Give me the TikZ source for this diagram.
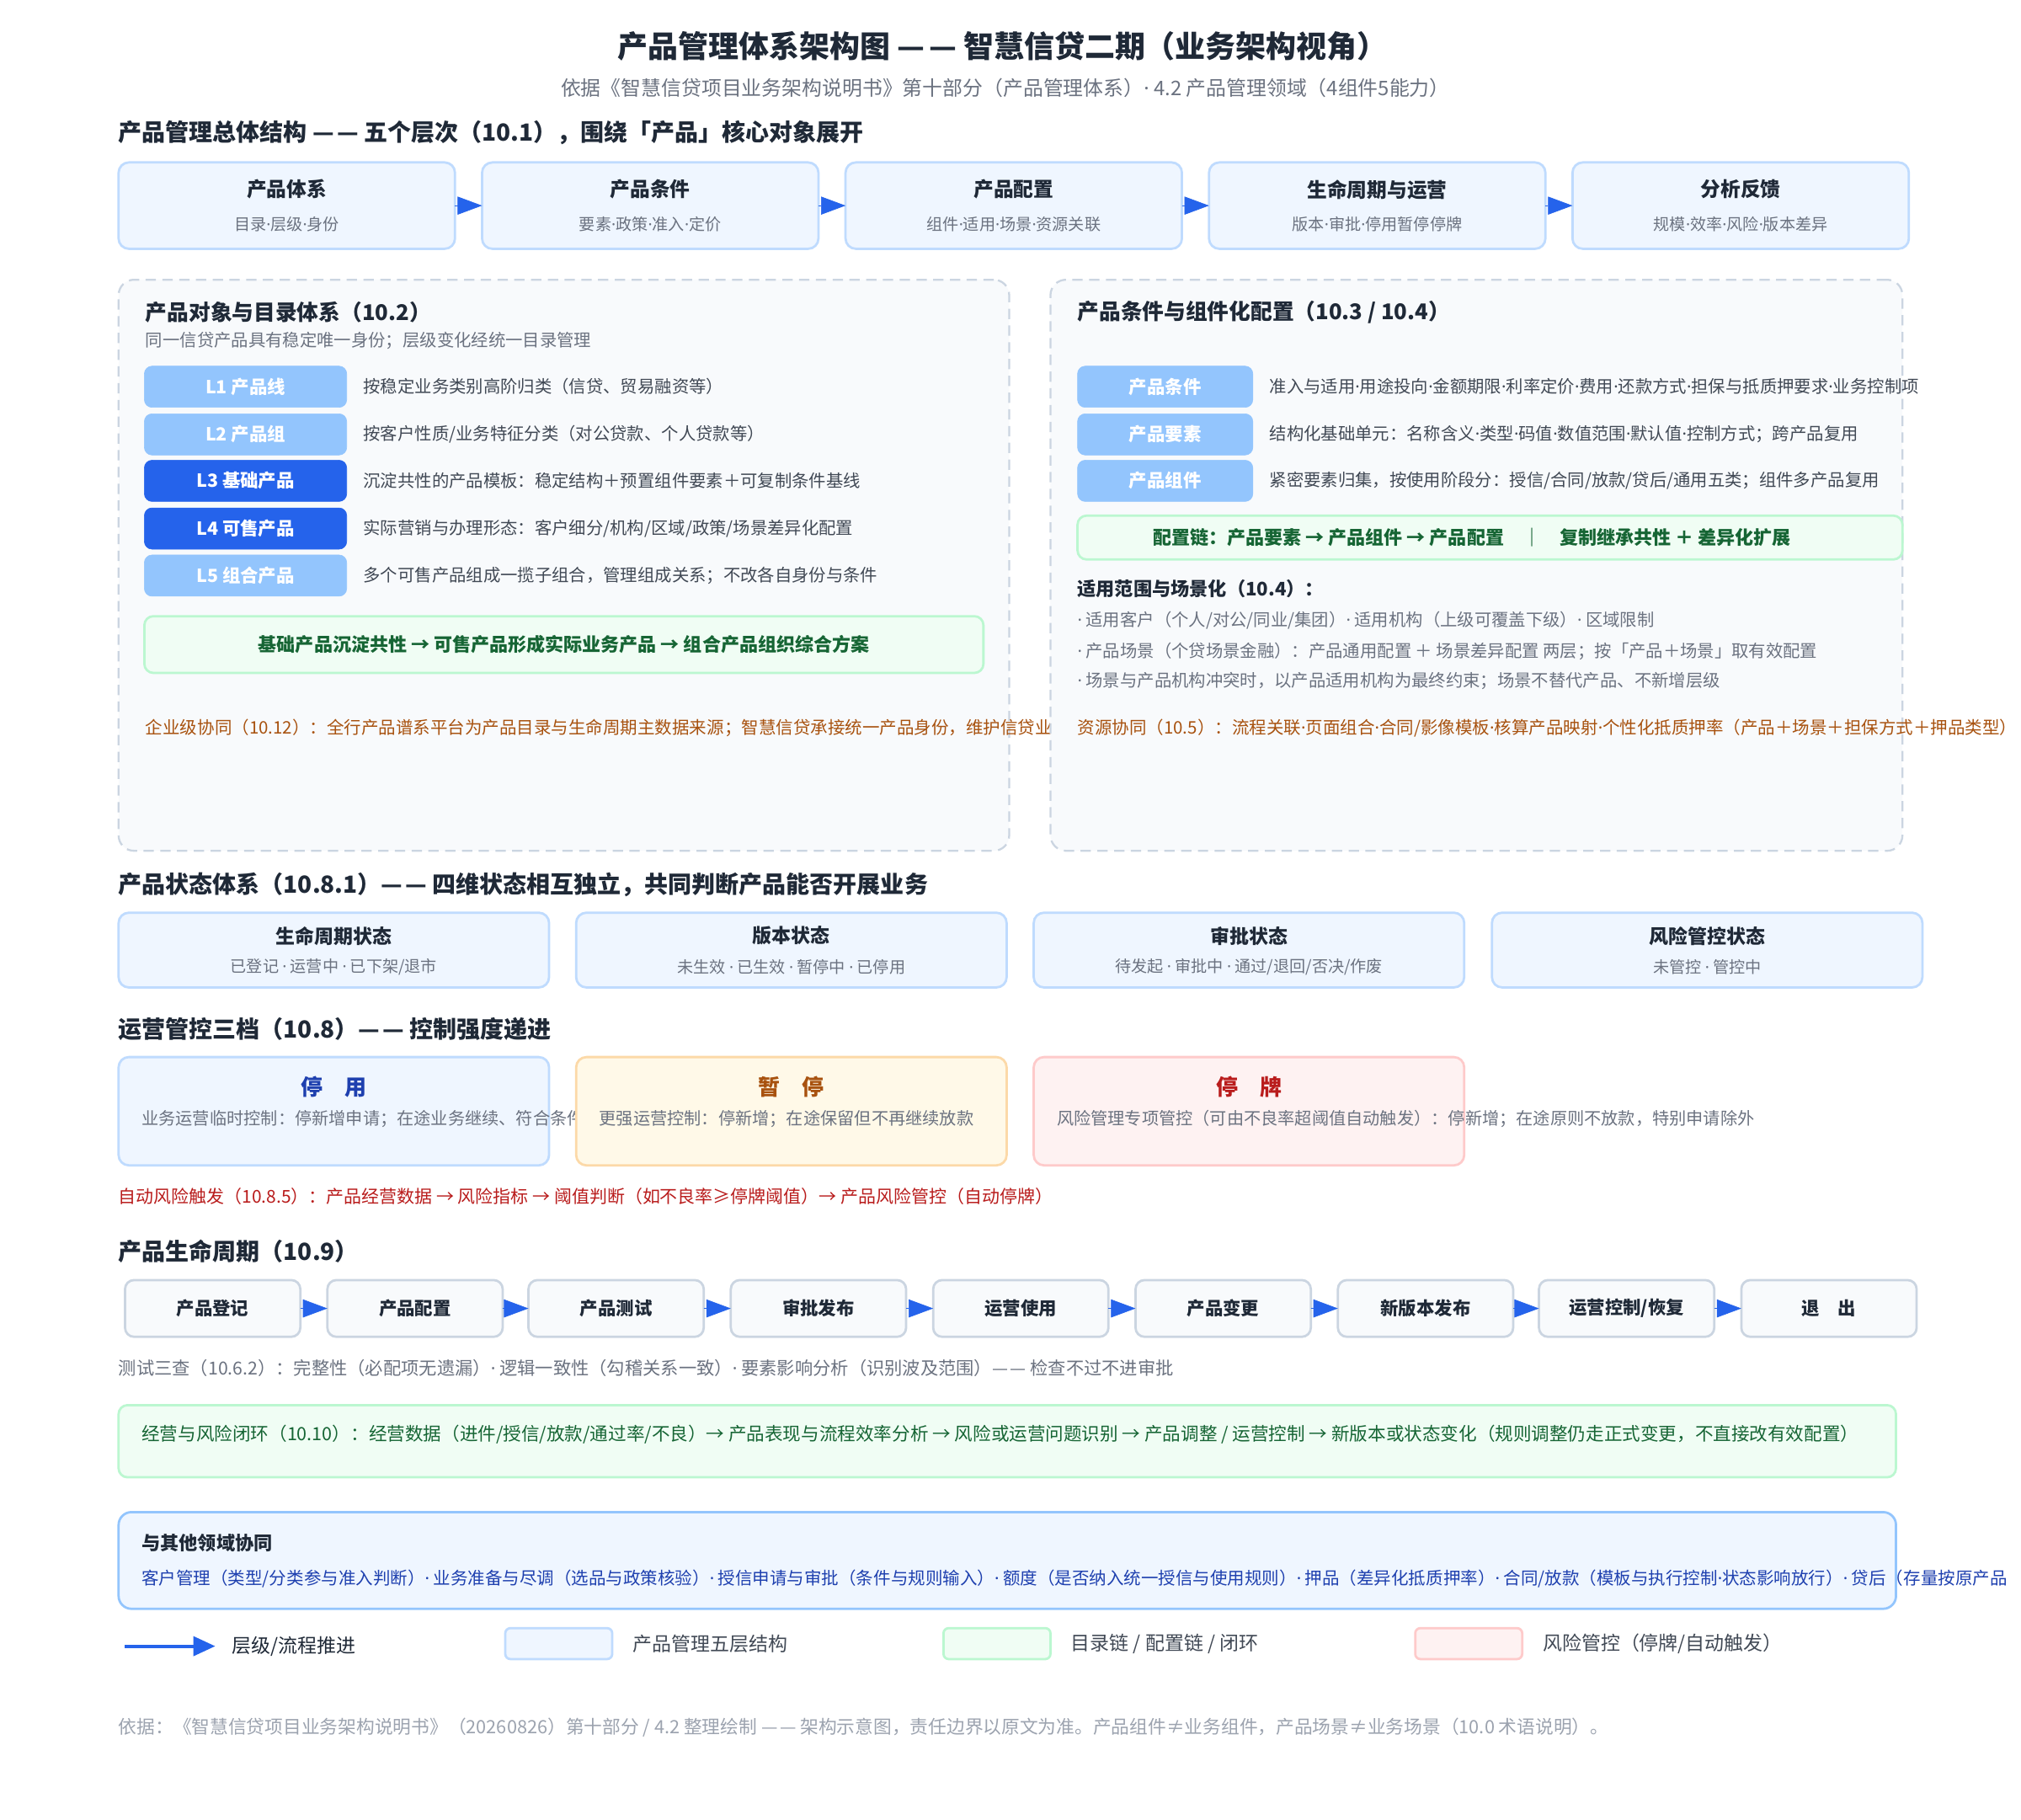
\documentclass[tikz,border=0pt]{standalone}
\usepackage{fontspec}
\setmainfont{Noto Sans CJK SC}
\newfontfamily\latinfont{Noto Sans}
\newcommand\md{{\latinfont ·}}
\newcommand\dd{—\kern0.12em—}
\usetikzlibrary{arrows.meta,positioning}
\definecolor{inkdark}{HTML}{1F2937}
\definecolor{inkgray}{HTML}{6B7280}
\definecolor{inklight}{HTML}{9CA3AF}
\definecolor{boxblue}{HTML}{EFF6FF}
\definecolor{boxblueline}{HTML}{BFDBFE}
\definecolor{midblue}{HTML}{93C5FD}
\definecolor{flowblue}{HTML}{2563EB}
\definecolor{deepblue}{HTML}{1E40AF}
\definecolor{panelfill}{HTML}{F8FAFC}
\definecolor{panelline}{HTML}{CBD5E1}
\definecolor{chainfill}{HTML}{F0FDF4}
\definecolor{chainline}{HTML}{BBF7D0}
\definecolor{chaintext}{HTML}{166534}
\definecolor{synctext}{HTML}{A8520F}
\definecolor{pausefill}{HTML}{FFF9E8}
\definecolor{pauseline}{HTML}{FCD9A8}
\definecolor{riskfill}{HTML}{FEF2F2}
\definecolor{riskline}{HTML}{FECACA}
\definecolor{risktext}{HTML}{B91C1C}

\begin{document}
\begin{tikzpicture}[x=1pt,y=-1pt,
  every node/.style={inner sep=0pt, outer sep=0pt},
  sizebox/.style 2 args={minimum width=#1pt, minimum height=#2pt},
  layerbox/.style={draw=boxblueline, fill=boxblue, line width=1.8pt, rounded corners=8pt, sizebox={261}{67}},
  statebox/.style={draw=boxblueline, fill=boxblue, line width=1.8pt, rounded corners=8pt, sizebox={334}{58}},
  stepbox/.style={draw=panelline, fill=panelfill, line width=1.8pt, rounded corners=7pt, sizebox={136}{44},
    font=\fontsize{14}{16}\selectfont\bfseries, text=inkdark},
  lvlbox/.style={fill=#1, draw=#1, rounded corners=6pt, sizebox={157}{32},
    font=\fontsize{14}{16}\selectfont\bfseries, text=white},
  condbox/.style={fill=midblue, draw=midblue, rounded corners=6pt, sizebox={136}{32},
    font=\fontsize{14}{16}\selectfont\bfseries, text=white},
  panelbox/.style={draw=panelline, fill=panelfill, line width=1.5pt, dash pattern=on 8pt off 5pt, rounded corners=12pt},
  chainbox/.style={draw=chainline, fill=chainfill, line width=1.8pt, rounded corners=7pt},
  heading/.style={anchor=west, font=\fontsize{18.3}{21}\selectfont\bfseries, text=inkdark},
  subhead/.style={anchor=west, font=\fontsize{16.8}{19}\selectfont\bfseries, text=inkdark},
  boxtitle/.style={font=\fontsize{15.5}{18}\selectfont\bfseries, text=inkdark},
  boxsub/.style={font=\fontsize{12.5}{14}\selectfont, text=inkgray},
  desctext/.style={anchor=west, font=\fontsize{13.3}{15}\selectfont, text=inkdark!85},
  notetext/.style={anchor=west, font=\fontsize{13.3}{15}\selectfont, text=inkgray},
  flowarrow/.style={-{Triangle[length=19pt,width=14pt]}, draw=flowblue, fill=flowblue, line width=0.4pt}]

\useasboundingbox (0,0) rectangle (1568,1411.2);
\fill[white] (0,0) rectangle (1568,1411.2);

% Title
\node[font=\fontsize{23.5}{27}\selectfont\bfseries, text=inkdark] (title) at (778,36)
  {产品管理体系架构图 \dd{} 智慧信贷二期（业务架构视角）};
\node[font=\fontsize{15.6}{18}\selectfont, text=inkgray] (subtitle) at (780,68)
  {依据《智慧信贷项目业务架构说明书》第十部分（产品管理体系）\md{} 4.2 产品管理领域（4组件5能力）};

% Five layers
\node[heading] (layhead) at (92,103) {产品管理总体结构 \dd{} 五个层次（10.1），围绕「产品」核心对象展开};
\foreach \i/\cx/\ttl/\sub in {1/222.5/产品体系/目录\md 层级\md 身份, 2/504.5/产品条件/要素\md 政策\md 准入\md 定价,
    3/786.5/产品配置/组件\md 适用\md 场景\md 资源关联, 4/1068.5/生命周期与运营/版本\md 审批\md 停用暂停停牌,
    5/1350.5/分析反馈/规模\md 效率\md 风险\md 版本差异} {
  \node[layerbox] (lay\i) at (\cx,159.5) {};
  \node[boxtitle] (laytitle\i) at (\cx,147) {\ttl};
  \node[boxsub] (laysub\i) at (\cx,174) {\sub};
}
\foreach \i [evaluate=\i as \j using int(\i+1)] in {1,...,4}
  \draw[flowarrow] (lay\i.east) -- (lay\j.west);

% Catalogue panel
\node[panelbox, sizebox={691}{443}] (catpanel) at (437.5,438.5) {};
\node[subhead] (cattitle) at (113,242) {产品对象与目录体系（10.2）};
\node[notetext] (catnote) at (113,264) {同一信贷产品具有稳定唯一身份；层级变化经统一目录管理};
\foreach \i/\cy/\lab/\desc/\tone in {
    1/300/L1 产品线/{按稳定业务类别高阶归类（信贷、贸易融资等）}/midblue,
    2/337/L2 产品组/{按客户性质/业务特征分类（对公贷款、个人贷款等）}/midblue,
    3/373/L3 基础产品/{沉淀共性的产品模板：稳定结构＋预置组件要素＋可复制条件基线}/flowblue,
    4/410/L4 可售产品/{实际营销与办理形态：客户细分/机构/区域/政策/场景差异化配置}/flowblue,
    5/446.5/L5 组合产品/{多个可售产品组成一揽子组合，管理组成关系；不改各自身份与条件}/midblue} {
  \node[lvlbox=\tone] (lvl\i) at (190.5,\cy) {\lab};
  \node[desctext, right=13pt of lvl\i] (lvldesc\i) {\desc};
}
\node[chainbox, sizebox={651}{44}] (catchain) at (437.5,500) {};
\node[font=\fontsize{14.4}{17}\selectfont\bfseries, text=chaintext] (catchaintext) at (catchain)
  {基础产品沉淀共性 → 可售产品形成实际业务产品 → 组合产品组织综合方案};
\node[anchor=west, font=\fontsize{13.4}{15}\selectfont, text=synctext] (catsync) at (113,565)
  {企业级协同（10.12）：全行产品谱系平台为产品目录与生命周期主数据来源；智慧信贷承接统一产品身份，维护信贷业务};

% Condition panel
\node[panelbox, sizebox={661}{443}] (condpanel) at (1145.5,438.5) {};
\node[subhead] (condtitle) at (836,242) {产品条件与组件化配置（10.3 / 10.4）};
\foreach \i/\cy/\lab/\desc in {
    1/300/产品条件/{准入与适用\md 用途投向\md 金额期限\md 利率定价\md 费用\md 还款方式\md 担保与抵质押要求\md 业务控制项},
    2/337/产品要素/{结构化基础单元：名称含义\md 类型\md 码值\md 数值范围\md 默认值\md 控制方式；跨产品复用},
    3/373/产品组件/{紧密要素归集，按使用阶段分：授信/合同/放款/贷后/通用五类；组件多产品复用}} {
  \node[condbox] (cond\i) at (904,\cy) {\lab};
  \node[desctext, right=13pt of cond\i] (conddesc\i) {\desc};
}
\node[chainbox, sizebox={640}{34}] (condchain) at (1156,417) {};
\node[font=\fontsize{14.4}{17}\selectfont\bfseries, text=chaintext] (condchaintext) at ([xshift=-14pt]condchain.center)
  {配置链：产品要素 → 产品组件 → 产品配置\quad ｜\quad 复制继承共性 ＋ 差异化扩展};
\node[anchor=west, font=\fontsize{14.5}{17}\selectfont\bfseries, text=inkdark] (scopehead) at (836,457) {适用范围与场景化（10.4）：};
\node[notetext] (scope1) at (836,481) {\md{} 适用客户（个人/对公/同业/集团）\md{} 适用机构（上级可覆盖下级）\md{} 区域限制};
\node[notetext] (scope2) at (836,505) {\md{} 产品场景（个贷场景金融）：产品通用配置 ＋ 场景差异配置 两层；按「产品＋场景」取有效配置};
\node[notetext] (scope3) at (836,528) {\md{} 场景与产品机构冲突时，以产品适用机构为最终约束；场景不替代产品、不新增层级};
\node[anchor=west, font=\fontsize{13.4}{15}\selectfont, text=synctext] (condsync) at (836,565)
  {资源协同（10.5）：流程关联\md 页面组合\md 合同/影像模板\md 核算产品映射\md 个性化抵质押率（产品＋场景＋担保方式＋押品类型）};

% Four states
\node[heading] (statehead) at (92,686) {产品状态体系（10.8.1）\dd{} 四维状态相互独立，共同判断产品能否开展业务};
\foreach \i/\cx/\ttl/\sub in {1/259/生命周期状态/{已登记 \md{} 运营中 \md{} 已下架/退市},
    2/614/版本状态/{未生效 \md{} 已生效 \md{} 暂停中 \md{} 已停用},
    3/969/审批状态/{待发起 \md{} 审批中 \md{} 通过/退回/否决/作废},
    4/1324.5/风险管控状态/{未管控 \md{} 管控中}} {
  \node[statebox] (state\i) at (\cx,737) {};
  \node[boxtitle, font=\fontsize{15}{18}\selectfont\bfseries] (statetitle\i) at (\cx,726) {\ttl};
  \node[boxsub] (statesub\i) at (\cx,750) {\sub};
}

% Three operation controls
\node[heading] (opshead) at (92,798) {运营管控三档（10.8）\dd{} 控制强度递进};
\foreach \i/\cx/\fil/\lin/\tc/\ttl/\desc in {
    1/259/boxblue/boxblueline/deepblue/停　用/{业务运营临时控制：停新增申请；在途业务继续、符合条件的业务},
    2/614/pausefill/pauseline/synctext/暂　停/{更强运营控制：停新增；在途保留但不再继续放款},
    3/969/riskfill/riskline/risktext/停　牌/{风险管理专项管控（可由不良率超阈值自动触发）：停新增；在途原则不放款，特别申请除外}} {
  \node[draw=\lin, fill=\fil, line width=1.8pt, rounded corners=8pt, sizebox={334}{84}] (ops\i) at (\cx,862) {};
  \node[font=\fontsize{17}{20}\selectfont\bfseries, text=\tc] (opstitle\i) at (\cx,843) {\ttl};
  \node[anchor=west, font=\fontsize{13.2}{15}\selectfont, text=inkgray] (opsdesc\i) at ([xshift=18pt]ops\i.west |- 0,868) {\desc};
}
\node[anchor=west, font=\fontsize{13.7}{16}\selectfont, text=risktext] (autorisk) at (92,928)
  {自动风险触发（10.8.5）：产品经营数据 → 风险指标 → 阈值判断（如不良率≥停牌阈值）→ 产品风险管控（自动停牌）};

% Lifecycle
\node[heading] (lifehead) at (92,971) {产品生命周期（10.9）};
\foreach \i/\cx/\lab in {1/165/产品登记, 2/322/产品配置, 3/478/产品测试, 4/635/审批发布, 5/792/运营使用,
    6/949/产品变更, 7/1106/新版本发布, 8/1262/{运营控制/恢复}, 9/1419/退　出}
  \node[stepbox] (life\i) at (\cx,1015) {\lab};
\foreach \i [evaluate=\i as \j using int(\i+1)] in {1,...,8}
  \draw[flowarrow] (life\i.east) -- (life\j.west);
\node[notetext, font=\fontsize{13.9}{16}\selectfont] (testnote) at (92,1061)
  {测试三查（10.6.2）：完整性（必配项无遗漏）\md{} 逻辑一致性（勾稽关系一致）\md{} 要素影响分析（识别波及范围）\dd{} 检查不过不进审批};

% Closed loop
\node[chainbox, sizebox={1379}{56}] (loopbox) at (781.5,1118) {};
\node[anchor=west, font=\fontsize{14.1}{16}\selectfont, text=chaintext] (looptext) at (110,1113)
  {经营与风险闭环（10.10）：经营数据（进件/授信/放款/通过率/不良）→ 产品表现与流程效率分析 → 风险或运营问题识别 → 产品调整 / 运营控制 → 新版本或状态变化（规则调整仍走正式变更，不直接改有效配置）};

% Other domains
\node[draw=midblue, fill=boxblue, line width=1.8pt, rounded corners=10pt, sizebox={1379}{75}] (domainbox) at (781.5,1210.5) {};
\node[anchor=west, font=\fontsize{14.5}{17}\selectfont\bfseries, text=inkdark] (domainhead) at (110,1197) {与其他领域协同};
\node[anchor=west, font=\fontsize{13.4}{15}\selectfont, text=deepblue] (domaintext) at (110,1225)
  {客户管理（类型/分类参与准入判断）\md{} 业务准备与尽调（选品与政策核验）\md{} 授信申请与审批（条件与规则输入）\md{} 额度（是否纳入统一授信与使用规则）\md{} 押品（差异化抵质押率）\md{} 合同/放款（模板与执行控制\md 状态影响放行）\md{} 贷后（存量按原产品};

% Legend
\coordinate (legstart) at (97,1277);
\coordinate (legend) at (167,1277);
\draw[-{Triangle[length=17pt,width=15pt]}, draw=flowblue, fill=flowblue, line width=2.5pt] (legstart) -- (legend);
\node[anchor=west, font=\fontsize{15}{18}\selectfont, text=inkdark] (legarrow) at (180,1277) {层级/流程推进};
\foreach \i/\cx/\fil/\lin/\lab in {1/433.5/boxblue/boxblueline/产品管理五层结构,
    2/773.5/chainfill/chainline/{目录链 / 配置链 / 闭环},
    3/1139.5/riskfill/riskline/{风险管控（停牌/自动触发）}} {
  \node[draw=\lin, fill=\fil, line width=1.8pt, rounded corners=4pt, sizebox={83}{24}] (legbox\i) at (\cx,1275) {};
  \node[anchor=west, font=\fontsize{15}{18}\selectfont, text=inkdark!85, right=16pt of legbox\i] (leglabel\i) {\lab};
}

% Footer
\node[anchor=west, font=\fontsize{14.2}{16}\selectfont, text=inklight] (footer) at (92,1340)
  {依据：《智慧信贷项目业务架构说明书》（20260826）第十部分 / 4.2 整理绘制 \dd{} 架构示意图，责任边界以原文为准。产品组件≠业务组件，产品场景≠业务场景（10.0 术语说明）。};
\end{tikzpicture}
\end{document}
